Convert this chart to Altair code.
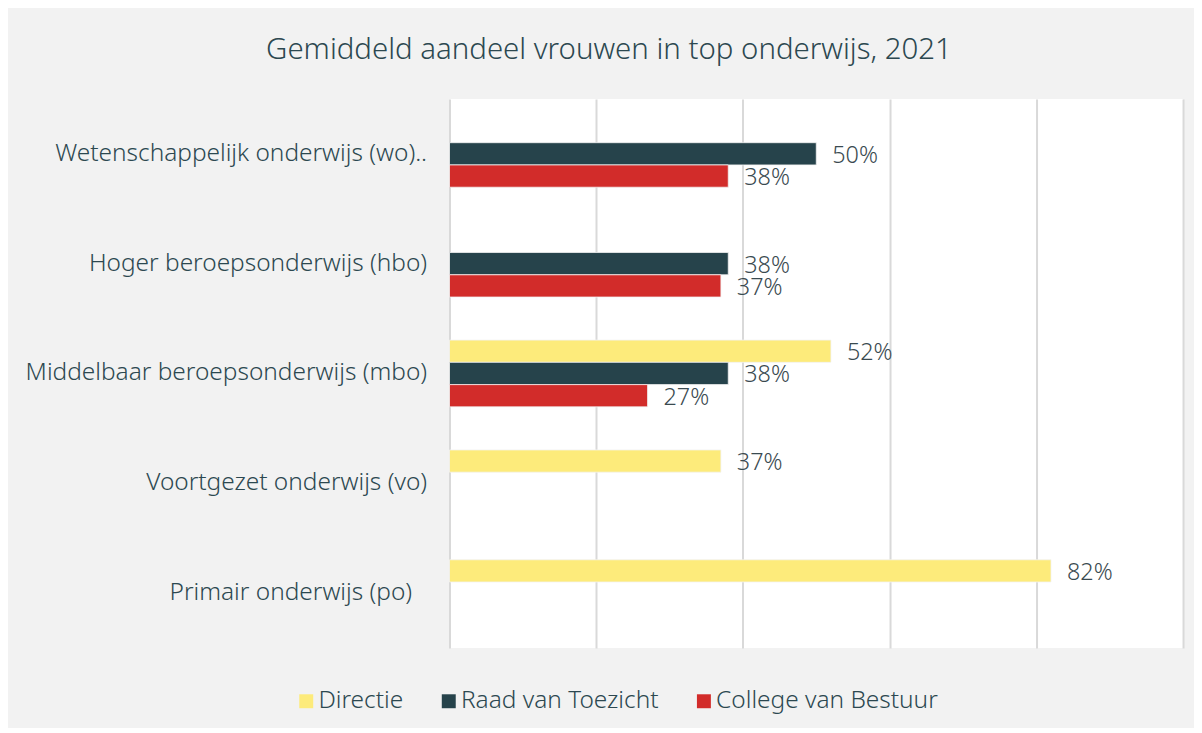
import altair as alt
import pandas as pd

categories = [
    "Wetenschappelijk onderwijs (wo)..",
    "Hoger beroepsonderwijs (hbo)",
    "Middelbaar beroepsonderwijs (mbo)",
    "Voortgezet onderwijs (vo)",
    "Primair onderwijs (po)",
]
series = ["Directie", "Raad van Toezicht", "College van Bestuur"]
directie = [None, None, 0.52, 0.37, 0.82]
raad = [0.50, 0.38, 0.38, None, None]
college = [0.38, 0.37, 0.27, None, None]
colors = ["#fdeb7b", "#26434b", "#d22c2a"]

rows = []
for name, vals in zip(series, [directie, raad, college]):
    for cat, v in zip(categories, vals):
        if v is not None:
            rows.append({"categorie": cat, "reeks": name, "waarde": v})
df = pd.DataFrame(rows)

FONT = "Noto Sans"
TXT = "#2c4850"

y_enc = alt.Y("categorie:N", sort=categories,
              scale=alt.Scale(paddingInner=0.392, paddingOuter=0.196),
              axis=alt.Axis(title=None, ticks=False, domain=False,
                            labelPadding={"condition": {"test": "datum.value == 'Primair onderwijs (po)'",
                                                        "value": 38},
                                          "value": 23},
                            labelFontSize=24.5, labelFont=FONT, labelColor=TXT,
                            labelFontWeight=300, labelLimit=600))
yoff = alt.YOffset("reeks:N", scale=alt.Scale(domain=series, paddingInner=0, paddingOuter=0))
x_enc = alt.X("waarde:Q", scale=alt.Scale(domain=[0, 1]),
              axis=alt.Axis(values=[0, 0.2, 0.4, 0.6, 0.8, 1.0], labels=False, ticks=False,
                            domain=False, grid=True, gridColor="#d9d9d9", gridWidth=2,
                            title=None))

bars = alt.Chart(df).mark_bar(stroke="#f2f2f2", strokeWidth=0.8).encode(
    y=y_enc, yOffset=yoff, x=x_enc,
    color=alt.Color("reeks:N", scale=alt.Scale(domain=series, range=colors),
                    legend=alt.Legend(title=None, orient="none", direction="horizontal",
                                      legendX=-156, legendY=592, symbolType="square",
                                      symbolSize=196, symbolStrokeWidth=0,
                                      labelFontSize=24.5, labelFont=FONT, labelColor=TXT,
                                      labelFontWeight=300, labelLimit=0,
                                      labelOffset=0, columnPadding=33, columns=3)),
)

labels = alt.Chart(df).mark_text(align="left", baseline="middle", dx=16, dy=2,
                                 fontSize=23.5, font=FONT, fontWeight=300,
                                 color="#3a4a50").encode(
    y=alt.Y("categorie:N", sort=categories), yOffset=alt.YOffset("reeks:N"),
    x="waarde:Q",
    text=alt.Text("waarde:Q", format=".0%"),
)

chart = (bars + labels).properties(
    width=736, height=551,
    title=alt.TitleParams("Gemiddeld aandeel vrouwen in top onderwijs, 2021",
                          fontSize=29.5, font=FONT, fontWeight=300, color=TXT,
                          anchor="middle", dx=-208, offset=34),
    background="#f2f2f2",
    autosize=alt.AutoSizeParams(type="none"),
    padding={"left": 443, "top": 90, "right": 11, "bottom": 79},
).configure_view(fill="white", stroke=None)

chart.save("out.html", embed_options={"renderer": "svg", "actions": False})
